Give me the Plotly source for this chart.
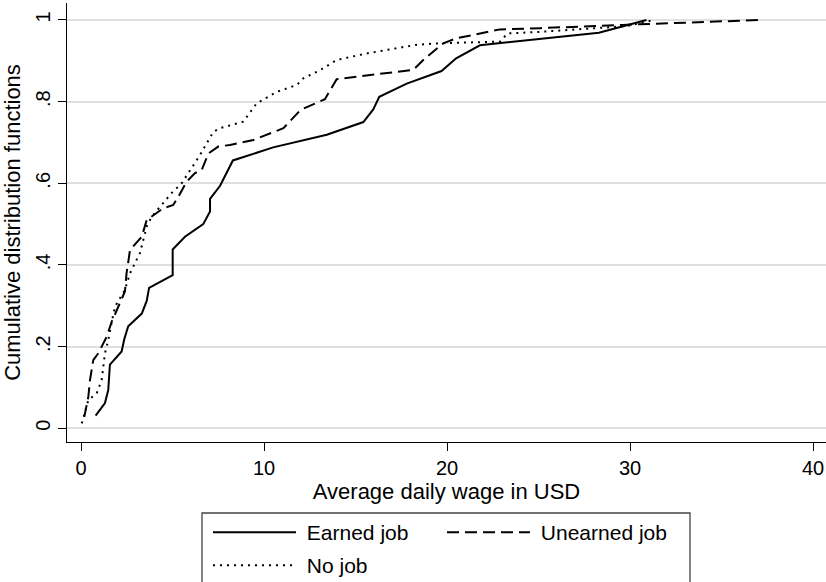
import plotly.graph_objects as go

# Cumulative distribution of average daily wage (USD) by job status
earned_x = [0.80, 1.31, 1.49, 1.53, 1.58, 2.22, 2.37, 2.58, 3.32, 3.59, 3.72, 5.01, 5.01, 5.01,
            5.68, 6.68, 7.05, 7.05, 7.6, 7.96, 8.3, 10.5, 13.43, 15.43, 15.97, 16.3, 17.8,
            19.7, 20.5, 21.8, 28.3, 30.9]
earned_y = [0.031, 0.062, 0.094, 0.125, 0.156, 0.188, 0.219, 0.25, 0.281, 0.312, 0.344, 0.375,
            0.406, 0.438, 0.469, 0.5, 0.531, 0.562, 0.594, 0.625, 0.656, 0.688, 0.719, 0.75,
            0.781, 0.812, 0.844, 0.875, 0.906, 0.938, 0.969, 1.0]

unearned_x = [0.18, 0.4, 0.49, 0.67, 0.95, 1.4, 1.68, 1.95, 2.4, 2.49, 2.68, 3.32, 3.59, 4.5,
              5.04, 5.32, 5.77, 6.23, 6.6, 6.96, 7.5, 8.14, 9.42, 11.06, 12.0, 13.33, 13.97,
              18.16, 18.8, 19.8, 20.5, 22.9, 25.1, 29.6, 30.9, 37.1]
unearned_y = [0.028, 0.077, 0.118, 0.167, 0.184, 0.224, 0.261, 0.29, 0.335, 0.38, 0.437, 0.469,
              0.51, 0.539, 0.547, 0.567, 0.604, 0.625, 0.633, 0.673, 0.69, 0.694, 0.706, 0.735,
              0.78, 0.806, 0.855, 0.878, 0.906, 0.943, 0.955, 0.977, 0.98, 0.988, 0.99, 1.0]

nojob_x = [0.04, 0.4, 0.86, 1.13, 1.31, 1.49, 1.68, 1.86, 2.4, 2.68, 3.22, 3.59, 3.86, 4.41,
           4.95, 5.5, 6.05, 6.5, 6.87, 7.23, 7.6, 8.87, 9.6, 10.7, 11.8, 12.15, 13.06, 13.97,
           15.6, 18.3, 19.6, 22.9, 23.3, 25.1, 29.8, 31.3]
nojob_y = [0.012, 0.069, 0.086, 0.118, 0.184, 0.216, 0.261, 0.298, 0.339, 0.38, 0.429, 0.494,
           0.518, 0.547, 0.576, 0.6, 0.637, 0.669, 0.698, 0.726, 0.735, 0.751, 0.796, 0.824,
           0.841, 0.857, 0.877, 0.902, 0.918, 0.939, 0.943, 0.947, 0.967, 0.971, 0.985, 1.0]

x_ticks = [0, 10, 20, 30, 40]
y_ticks = [0, 0.2, 0.4, 0.6, 0.8, 1.0]
y_tick_text = ["0", ".2", ".4", ".6", ".8", "1"]

W, H = 826, 582
FONT = "Liberation Sans, Arial, Helvetica, sans-serif"
PAD = "\u00a0"  # small gap between legend key and label

fig = go.Figure()
fig.add_trace(go.Scatter(x=earned_x, y=earned_y, mode="lines", name=PAD + "Earned job",
                         line=dict(color="black", width=2), legend="legend"))
fig.add_trace(go.Scatter(x=unearned_x, y=unearned_y, mode="lines", name=PAD + "Unearned job",
                         line=dict(color="black", width=2, dash="12px,6px"), legend="legend2"))
fig.add_trace(go.Scatter(x=nojob_x, y=nojob_y, mode="lines", name=PAD + "No job",
                         line=dict(color="black", width=2, dash="2px,5px"), legend="legend3"))

leg_common = dict(xref="container", yref="container", xanchor="left", yanchor="top",
                  orientation="h", bgcolor="rgba(0,0,0,0)", borderwidth=0, itemwidth=83,
                  font=dict(family=FONT, size=21, color="black"))

def cx(px):
    return px / W

def cy(py):
    return 1 - py / H

fig.update_layout(
    width=W, height=H,
    margin=dict(l=67, r=0, t=3, b=140, autoexpand=False),
    paper_bgcolor="white", plot_bgcolor="white",
    font=dict(family=FONT, color="black"),
    showlegend=True,
    legend=dict(x=cx(208), y=cy(512), **leg_common),
    legend2=dict(x=cx(442), y=cy(512), **leg_common),
    legend3=dict(x=cx(208), y=cy(545), **leg_common),
    xaxis=dict(range=[-0.765, 40.71], tickvals=x_ticks, showgrid=False, zeroline=False,
               showline=True, linecolor="black", linewidth=1.3,
               ticks="outside", ticklen=8, tickwidth=1.3, tickcolor="black",
               tickfont=dict(family=FONT, size=20, color="black"),
               title=dict(text="Average daily wage in USD", standoff=0,
                          font=dict(family=FONT, size=22, color="black"))),
    yaxis=dict(range=[-0.0336, 1.0416], tickvals=y_ticks, ticktext=y_tick_text,
               tickangle=-90, showgrid=True, gridcolor="#e0e0e0", gridwidth=1.6,
               zeroline=False, showline=True, linecolor="black", linewidth=1.3,
               ticks="outside", ticklen=8, tickwidth=1.3, tickcolor="black",
               tickfont=dict(family=FONT, size=20, color="black"),
               title=dict(text="Cumulative distribution functions", standoff=5,
                          font=dict(family=FONT, size=22, color="black"))),
    shapes=[dict(type="rect", xref="paper", yref="paper",
                 x0=(202 - 67) / 759, x1=(690 - 67) / 759,
                 y0=(442 - 600) / 439, y1=(442 - 513) / 439,
                 line=dict(color="#444444", width=1.3), fillcolor="rgba(0,0,0,0)",
                 layer="above")],
)

fig.write_html("out.html")
